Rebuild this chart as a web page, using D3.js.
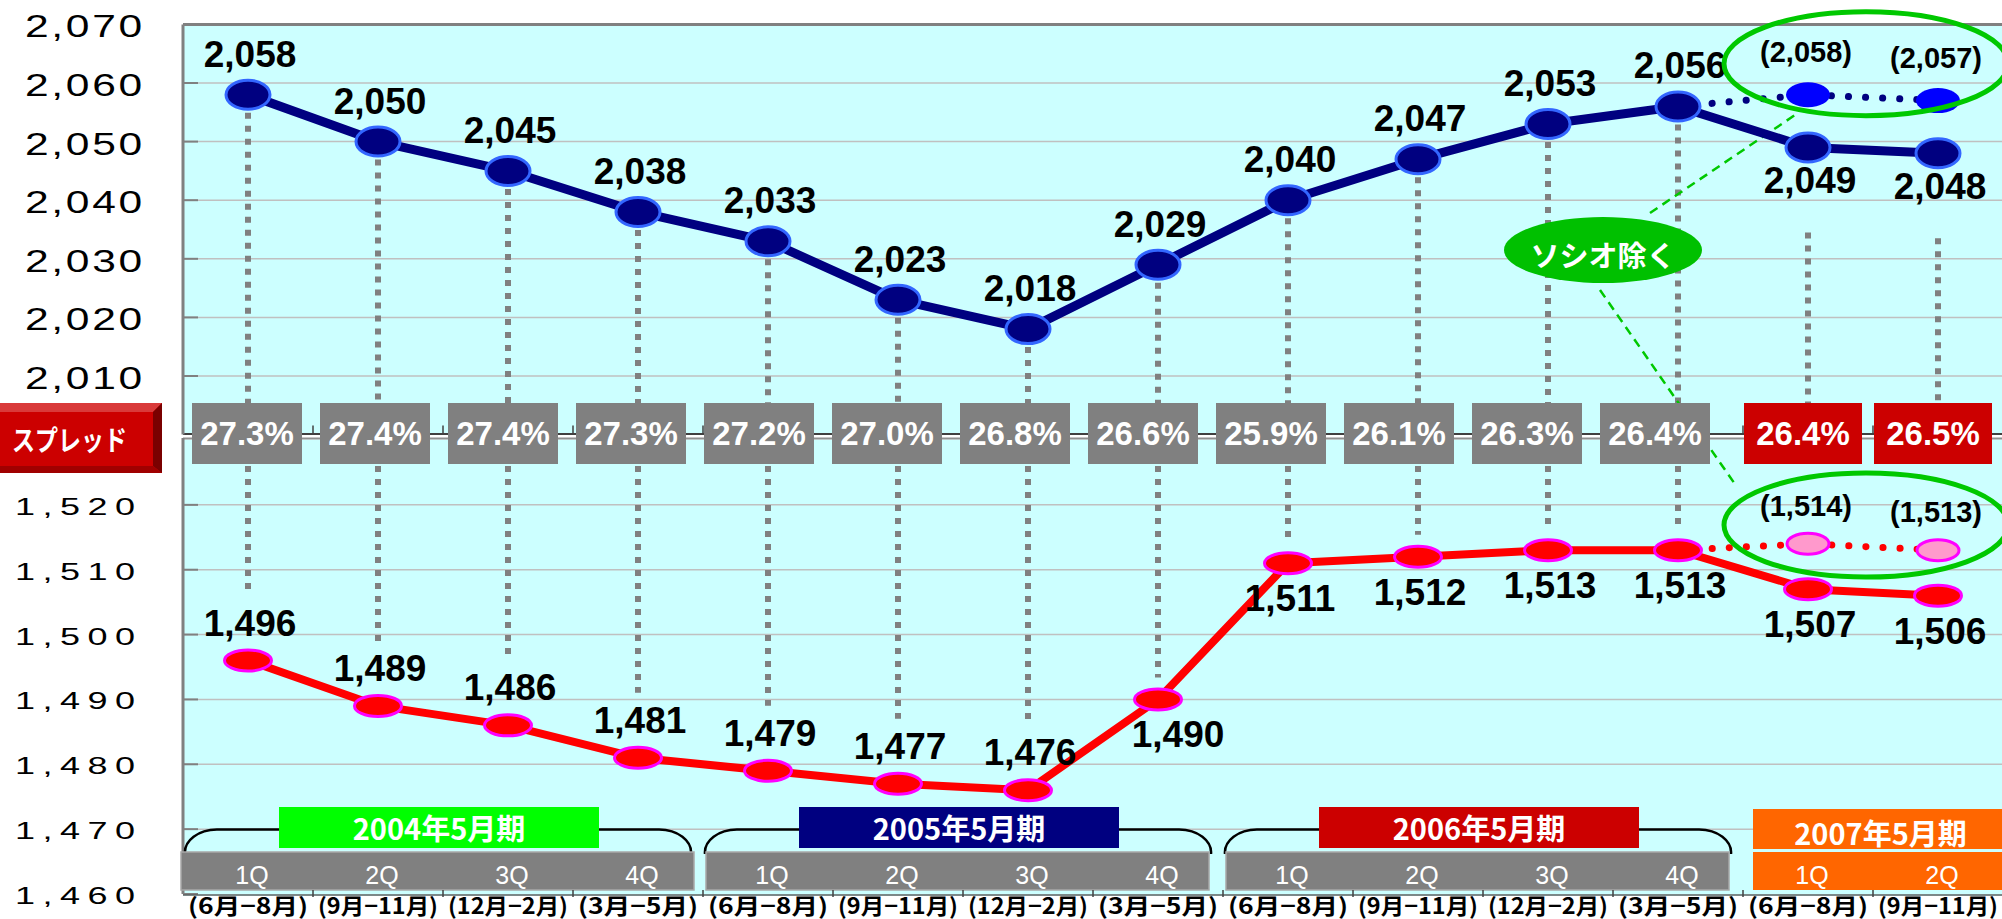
<!DOCTYPE html>
<html>
<head>
<meta charset="utf-8">
<script src="https://cdn.jsdelivr.net/npm/d3@7"></script>
<style>
  body { margin: 0; background: #fff; }
  svg { display: block; }
</style>
</head>
<body>
<div id="chart"></div>
<script>
var svgWidth = 2002;
var svgHeight = 919;

// x categories (quarters) and their labels
var quarterLabels = ["1Q", "2Q", "3Q", "4Q", "1Q", "2Q", "3Q", "4Q", "1Q", "2Q", "3Q", "4Q", "1Q", "2Q"];
var monthLabels = ["(6月−8月)", "(9月−11月)", "(12月−2月)", "(3月−5月)",
  "(6月−8月)", "(9月−11月)", "(12月−2月)", "(3月−5月)",
  "(6月−8月)", "(9月−11月)", "(12月−2月)", "(3月−5月)",
  "(6月−8月)", "(9月−11月)"];
var fiscalYears = ["2004年5月期", "2005年5月期", "2006年5月期", "2007年5月期"];
var fiscalColors = ["#00FF00", "#000080", "#CC0000", "#FF6600"];

// series values
var upperValues = [2058, 2050, 2045, 2038, 2033, 2023, 2018, 2029, 2040, 2047, 2053, 2056, 2049, 2048];
var lowerValues = [1496, 1489, 1486, 1481, 1479, 1477, 1476, 1490, 1511, 1512, 1513, 1513, 1507, 1506];
var spreadValues = [27.3, 27.4, 27.4, 27.3, 27.2, 27.0, 26.8, 26.6, 25.9, 26.1, 26.3, 26.4, 26.4, 26.5];

// last two quarters excluding ソシオ
var exSocioUpper = [2058, 2057];
var exSocioLower = [1514, 1513];

// axis ticks
var upperTicks = [2010, 2020, 2030, 2040, 2050, 2060, 2070];
var lowerTicks = [1460, 1470, 1480, 1490, 1500, 1510, 1520];

var plotLeft = 183;
var plotRight = 2003;
var topPanel = { top: 24.4, bottom: 434.6 };
var botPanel = { top: 440, bottom: 894 };
var boxTop = 403, boxBottom = 464;

var svg = d3.select("#chart")
  .append("svg")
  .attr("width", svgWidth)
  .attr("height", svgHeight);

// scales
var x = d3.scaleBand()
  .domain(d3.range(quarterLabels.length))
  .range([plotLeft, plotRight]);
var cx = function(i) { return x(i) + x.bandwidth() / 2; };

// grey spread boxes sit on a slightly tighter spacing than the quarters
var boxX = d3.scalePoint()
  .domain(d3.range(12))
  .range([247, 247 + 128 * 11]);

var yTop = d3.scaleLinear().domain([2000, 2070]).range([topPanel.bottom, topPanel.top]);
var yBot = d3.scaleLinear().domain([1460, 1530]).range([botPanel.bottom, botPanel.top]);
var fmt = d3.format(",");

// plot background
svg.append("rect")
  .attr("x", plotLeft).attr("y", topPanel.top)
  .attr("width", svgWidth - plotLeft).attr("height", botPanel.bottom - topPanel.top + 2)
  .attr("fill", "#CCFFFF");

// gridlines
svg.append("g").selectAll("line")
  .data(upperTicks.filter(d => d < 2070))
  .enter().append("line")
  .attr("x1", plotLeft).attr("x2", svgWidth)
  .attr("y1", d => yTop(d)).attr("y2", d => yTop(d))
  .attr("stroke", "#C0C0C0").attr("stroke-width", 1.5);

svg.append("g").selectAll("line")
  .data(lowerTicks.filter(d => d > 1460))
  .enter().append("line")
  .attr("x1", plotLeft).attr("x2", svgWidth)
  .attr("y1", d => yBot(d)).attr("y2", d => yBot(d))
  .attr("stroke", "#C0C0C0").attr("stroke-width", 1.5);

// y tick marks
svg.append("g").selectAll("line")
  .data(upperTicks)
  .enter().append("line")
  .attr("x1", plotLeft).attr("x2", plotLeft + 15)
  .attr("y1", d => yTop(d)).attr("y2", d => yTop(d))
  .attr("stroke", "#808080").attr("stroke-width", 2);
svg.append("g").selectAll("line")
  .data(lowerTicks)
  .enter().append("line")
  .attr("x1", plotLeft).attr("x2", plotLeft + 15)
  .attr("y1", d => yBot(d)).attr("y2", d => yBot(d))
  .attr("stroke", "#808080").attr("stroke-width", 2);

// panel borders
svg.append("line")
  .attr("x1", plotLeft).attr("x2", svgWidth)
  .attr("y1", topPanel.top).attr("y2", topPanel.top)
  .attr("stroke", "#808080").attr("stroke-width", 3);
svg.append("rect")
  .attr("x", plotLeft).attr("y", topPanel.bottom - 1)
  .attr("width", svgWidth - plotLeft).attr("height", 6)
  .attr("fill", "#fff");
svg.append("line")
  .attr("x1", plotLeft).attr("x2", svgWidth)
  .attr("y1", topPanel.bottom - 0.5).attr("y2", topPanel.bottom - 0.5)
  .attr("stroke", "#404040").attr("stroke-width", 2);
svg.append("line")
  .attr("x1", plotLeft).attr("x2", svgWidth)
  .attr("y1", botPanel.top - 1.5).attr("y2", botPanel.top - 1.5)
  .attr("stroke", "#909090").attr("stroke-width", 2);

// small category ticks on the top panel axis
svg.append("g").selectAll("line")
  .data(d3.range(1, quarterLabels.length))
  .enter().append("line")
  .attr("x1", d => x(d)).attr("x2", d => x(d))
  .attr("y1", topPanel.bottom - 9).attr("y2", topPanel.bottom)
  .attr("stroke", "#404040").attr("stroke-width", 1.5);

svg.append("line")
  .attr("x1", plotLeft).attr("x2", plotLeft)
  .attr("y1", topPanel.top).attr("y2", topPanel.bottom)
  .attr("stroke", "#808080").attr("stroke-width", 3);
svg.append("line")
  .attr("x1", plotLeft).attr("x2", plotLeft)
  .attr("y1", botPanel.top - 2).attr("y2", botPanel.bottom)
  .attr("stroke", "#808080").attr("stroke-width", 3);

// y axis labels (wide lettering)
svg.append("g").selectAll("text")
  .data(upperTicks)
  .enter().append("text")
  .attr("transform", d => `translate(25, ${yTop(d) + 13}) scale(1.33, 1)`)
  .attr("font-family", "Liberation Sans, Arial, sans-serif")
  .attr("font-size", 32)
  .attr("letter-spacing", 2)
  .attr("fill", "#000")
  .text(d => fmt(d));

svg.append("g").selectAll("text")
  .data(lowerTicks)
  .enter().append("text")
  .attr("transform", d => `translate(15, ${yBot(d) + 10}) scale(1.5, 1)`)
  .attr("font-family", "Liberation Sans, Arial, sans-serif")
  .attr("font-size", 24)
  .attr("letter-spacing", 5)
  .attr("fill", "#000")
  .text(d => fmt(d));

// "スプレッド" bevelled tag
var tag = svg.append("g");
tag.append("rect").attr("x", 0).attr("y", boxTop).attr("width", 162).attr("height", 70).attr("fill", "#CC0000");
tag.append("polygon").attr("points", `0,${boxTop} 162,${boxTop} 153,${boxTop + 9} 0,${boxTop + 9}`).attr("fill", "#D93A3A");
tag.append("polygon").attr("points", `162,${boxTop} 162,${boxTop + 70} 153,${boxTop + 63} 153,${boxTop + 9}`).attr("fill", "#7A0000");
tag.append("polygon").attr("points", `0,${boxTop + 63} 153,${boxTop + 63} 162,${boxTop + 70} 0,${boxTop + 70}`).attr("fill", "#A00000");
tag.append("text")
  .attr("x", 12).attr("y", 451)
  .attr("font-family", "Noto Sans CJK JP, sans-serif")
  .attr("font-weight", "bold")
  .attr("font-size", 28)
  .attr("textLength", 115)
  .attr("lengthAdjust", "spacingAndGlyphs")
  .attr("fill", "#fff")
  .text("スプレッド");

// dotted drop lines from each marker to the spread boxes
var drops = svg.append("g")
  .attr("stroke", "#808080")
  .attr("stroke-width", 6)
  .attr("stroke-dasharray", "6,7");

drops.selectAll("line.up")
  .data(upperValues)
  .enter().append("line")
  .attr("x1", (d, i) => cx(i)).attr("x2", (d, i) => cx(i))
  .attr("y1", (d, i) => yTop(d) + (i >= 12 ? 85 : 18))
  .attr("y2", boxTop);

drops.selectAll("line.down")
  .data(lowerValues.slice(0, 12))
  .enter().append("line")
  .attr("x1", (d, i) => cx(i)).attr("x2", (d, i) => cx(i))
  .attr("y1", boxBottom + 2)
  .attr("y2", (d, i) => yBot(d) - (i >= 7 ? 22 : 65));

// callout geometry
var bubble = { x: cx(11) - 75, y: yTop(2031.5), rx: 99, ry: 33 };
var ringX = (cx(12) + cx(13)) / 2 - 7;
var ringTop = { x: ringX, y: d3.mean(exSocioUpper, d => yTop(d)) - 34, rx: 142, ry: 52 };
var ringBot = { x: ringX, y: d3.mean(exSocioLower, d => yBot(d)) - 22, rx: 142, ry: 52 };

// dashed leader lines
var leaders = svg.append("g")
  .attr("stroke", "#00C800")
  .attr("stroke-width", 2.5)
  .attr("stroke-dasharray", "9,6")
  .attr("fill", "none");
leaders.append("line")
  .attr("x1", bubble.x + 47).attr("y1", bubble.y - 37)
  .attr("x2", ringTop.x - 69).attr("y2", ringTop.y + 50);
leaders.append("line")
  .attr("x1", bubble.x - 3).attr("y1", bubble.y + 40)
  .attr("x2", ringBot.x - 129).attr("y2", ringBot.y - 38);

// spread boxes
var boxes = svg.append("g");
boxes.selectAll("rect")
  .data(spreadValues)
  .enter().append("rect")
  .attr("x", (d, i) => (i < 12 ? boxX(i) - 55 : cx(i) - 64))
  .attr("y", boxTop)
  .attr("width", (d, i) => (i < 12 ? 110 : 118))
  .attr("height", boxBottom - boxTop)
  .attr("fill", (d, i) => (i < 12 ? "#808080" : "#CC0000"));
boxes.selectAll("text")
  .data(spreadValues)
  .enter().append("text")
  .attr("x", (d, i) => (i < 12 ? boxX(i) : cx(i) - 5))
  .attr("y", 445)
  .attr("text-anchor", "middle")
  .attr("font-family", "Liberation Sans, Arial, sans-serif")
  .attr("font-weight", "bold")
  .attr("font-size", 33)
  .attr("fill", "#fff")
  .text(d => d.toFixed(1) + "%");

// ex-socio dotted extensions
var upperLine = d3.line().x((d, i) => cx(i)).y(d => yTop(d));
var lowerLine = d3.line().x((d, i) => cx(i)).y(d => yBot(d));

svg.append("path")
  .attr("d", d3.line()([[cx(11), yTop(upperValues[11])]].concat(exSocioUpper.map((d, j) => [cx(12 + j), yTop(d)]))))
  .attr("fill", "none")
  .attr("stroke", "#000080")
  .attr("stroke-width", 7)
  .attr("stroke-linecap", "round")
  .attr("stroke-dasharray", "0.1,17");

svg.append("path")
  .attr("d", d3.line()([[cx(11), yBot(lowerValues[11])]].concat(exSocioLower.map((d, j) => [cx(12 + j), yBot(d)]))))
  .attr("fill", "none")
  .attr("stroke", "#FF0000")
  .attr("stroke-width", 7)
  .attr("stroke-linecap", "round")
  .attr("stroke-dasharray", "0.1,17");

// main lines
svg.append("path")
  .datum(upperValues)
  .attr("d", upperLine)
  .attr("fill", "none")
  .attr("stroke", "#000080")
  .attr("stroke-width", 9)
  .attr("stroke-linejoin", "round");

svg.append("path")
  .datum(lowerValues)
  .attr("d", lowerLine)
  .attr("fill", "none")
  .attr("stroke", "#FF0000")
  .attr("stroke-width", 8)
  .attr("stroke-linejoin", "round");

// markers
svg.append("g").selectAll("ellipse")
  .data(upperValues)
  .enter().append("ellipse")
  .attr("cx", (d, i) => cx(i)).attr("cy", d => yTop(d))
  .attr("rx", 22).attr("ry", 14.5)
  .attr("fill", "#000080")
  .attr("stroke", "#3366FF").attr("stroke-width", 3);

svg.append("g").selectAll("ellipse")
  .data(lowerValues)
  .enter().append("ellipse")
  .attr("cx", (d, i) => cx(i)).attr("cy", d => yBot(d))
  .attr("rx", 23.5).attr("ry", 10.5)
  .attr("fill", "#FF0000")
  .attr("stroke", "#FF00FF").attr("stroke-width", 3);

svg.append("g").selectAll("ellipse")
  .data(exSocioUpper)
  .enter().append("ellipse")
  .attr("cx", (d, i) => cx(12 + i)).attr("cy", d => yTop(d))
  .attr("rx", 22).attr("ry", 12.5)
  .attr("fill", "#0000FF");

svg.append("g").selectAll("ellipse")
  .data(exSocioLower)
  .enter().append("ellipse")
  .attr("cx", (d, i) => cx(12 + i)).attr("cy", d => yBot(d))
  .attr("rx", 21).attr("ry", 10.5)
  .attr("fill", "#FF99CC")
  .attr("stroke", "#FF00FF").attr("stroke-width", 3);

// value labels
function numLabels(data, yScale, below, offAbove, offBelow) {
  svg.append("g").selectAll("text")
    .data(data)
    .enter().append("text")
    .attr("x", (d, i) => cx(i) + (below(i) && i === 7 ? 20 : 2))
    .attr("y", (d, i) => yScale(d) + (below(i) ? offBelow : offAbove))
    .attr("text-anchor", "middle")
    .attr("font-family", "Liberation Sans, Arial, sans-serif")
    .attr("font-weight", "bold")
    .attr("font-size", 37)
    .attr("fill", "#000")
    .text(d => fmt(d));
}
numLabels(upperValues, yTop, i => i >= 12, -28, 46);
numLabels(lowerValues, yBot, i => i >= 7, -25, 48);

svg.append("g").selectAll("text")
  .data(exSocioUpper)
  .enter().append("text")
  .attr("x", (d, i) => cx(12 + i) - 2)
  .attr("y", d => yTop(d) - 33)
  .attr("text-anchor", "middle")
  .attr("font-family", "Liberation Sans, Arial, sans-serif")
  .attr("font-weight", "bold")
  .attr("font-size", 29)
  .text(d => "(" + fmt(d) + ")");

svg.append("g").selectAll("text")
  .data(exSocioLower)
  .enter().append("text")
  .attr("x", (d, i) => cx(12 + i) - 2)
  .attr("y", d => yBot(d) - 28)
  .attr("text-anchor", "middle")
  .attr("font-family", "Liberation Sans, Arial, sans-serif")
  .attr("font-weight", "bold")
  .attr("font-size", 29)
  .text(d => "(" + fmt(d) + ")");

// green rings round the ex-socio points
[ringTop, ringBot].forEach(function(r) {
  svg.append("ellipse")
    .attr("cx", r.x).attr("cy", r.y)
    .attr("rx", r.rx).attr("ry", r.ry)
    .attr("fill", "none")
    .attr("stroke", "#00C800")
    .attr("stroke-width", 5);
});

// "ソシオ除く" bubble
svg.append("ellipse")
  .attr("cx", bubble.x).attr("cy", bubble.y)
  .attr("rx", bubble.rx).attr("ry", bubble.ry)
  .attr("fill", "#00C000");
svg.append("text")
  .attr("x", bubble.x).attr("y", bubble.y + 17)
  .attr("text-anchor", "middle")
  .attr("font-family", "Noto Sans CJK JP, sans-serif")
  .attr("font-weight", "bold")
  .attr("font-size", 29)
  .attr("fill", "#fff")
  .text("ソシオ除く");

// fiscal year groups: braces, coloured labels and quarter bars
var groups = fiscalYears.map(function(name, g) {
  var first = g * 4;
  var last = Math.min(first + 3, quarterLabels.length - 1);
  return { name: name, color: fiscalColors[g], x0: x(first), x1: x(last) + x.bandwidth(), last: g === fiscalYears.length - 1 };
});

var braceY = 829.5, barTop = 852, barBottom = 890;

groups.filter(d => !d.last).forEach(function(d) {
  svg.append("path")
    .attr("d", `M${d.x0 + 2},${barTop + 2} A32,23 0 0 1 ${d.x0 + 34},${braceY} L${d.x1 - 44},${braceY} A32,23 0 0 1 ${d.x1 - 12},${barTop + 2}`)
    .attr("fill", "none")
    .attr("stroke", "#000")
    .attr("stroke-width", 2.5);
  svg.append("rect")
    .attr("x", d.x0 + (d.x0 === plotLeft ? -2 : 3)).attr("y", barTop)
    .attr("width", d.x1 - d.x0 - (d.x0 === plotLeft ? 0 : 10) - 7).attr("height", barBottom - barTop)
    .attr("fill", "#808080")
    .attr("stroke", "#a8a8a8").attr("stroke-width", 1.5);
  var w = 320;
  var c = (d.x0 + d.x1) / 2 - 4;
  svg.append("rect")
    .attr("x", c - w / 2).attr("y", 807)
    .attr("width", w).attr("height", 41)
    .attr("fill", d.color);
  svg.append("text")
    .attr("x", c).attr("y", 840)
    .attr("text-anchor", "middle")
    .attr("font-family", "Noto Sans CJK JP, sans-serif")
    .attr("font-weight", "bold")
    .attr("font-size", 29)
    .attr("fill", "#fff")
    .text(d.name);
});

groups.filter(d => d.last).forEach(function(d) {
  svg.append("rect")
    .attr("x", d.x0 + 10).attr("y", 809)
    .attr("width", svgWidth - d.x0 - 10).attr("height", 40)
    .attr("fill", d.color);
  svg.append("rect")
    .attr("x", d.x0 + 10).attr("y", barTop)
    .attr("width", svgWidth - d.x0 - 10).attr("height", barBottom - barTop)
    .attr("fill", d.color);
  svg.append("text")
    .attr("x", (d.x0 + 10 + svgWidth) / 2 + 3).attr("y", 845)
    .attr("text-anchor", "middle")
    .attr("font-family", "Noto Sans CJK JP, sans-serif")
    .attr("font-weight", "bold")
    .attr("font-size", 29)
    .attr("fill", "#fff")
    .text(d.name);
});

// quarter labels inside the bars
svg.append("g").selectAll("text")
  .data(quarterLabels)
  .enter().append("text")
  .attr("x", (d, i) => cx(i) + 4)
  .attr("y", 884)
  .attr("text-anchor", "middle")
  .attr("font-family", "Liberation Sans, Arial, sans-serif")
  .attr("font-size", 25)
  .attr("fill", "#fff")
  .text(d => d);

// bottom axis with month labels
svg.append("line")
  .attr("x1", plotLeft).attr("x2", svgWidth)
  .attr("y1", 895).attr("y2", 895)
  .attr("stroke", "#606060").attr("stroke-width", 1.5);
svg.append("g").selectAll("line")
  .data(d3.range(1, quarterLabels.length))
  .enter().append("line")
  .attr("x1", d => x(d)).attr("x2", d => x(d))
  .attr("y1", barBottom).attr("y2", 897)
  .attr("stroke", "#404040").attr("stroke-width", 1.5);

svg.append("g").selectAll("text")
  .data(monthLabels)
  .enter().append("text")
  .attr("x", (d, i) => cx(i) - 60)
  .attr("y", 914)
  .attr("font-family", "Noto Sans CJK JP, sans-serif")
  .attr("font-weight", "bold")
  .attr("font-size", 22)
  .attr("textLength", 120)
  .attr("lengthAdjust", "spacingAndGlyphs")
  .attr("fill", "#000")
  .text(d => d);
</script>
</body>
</html>
